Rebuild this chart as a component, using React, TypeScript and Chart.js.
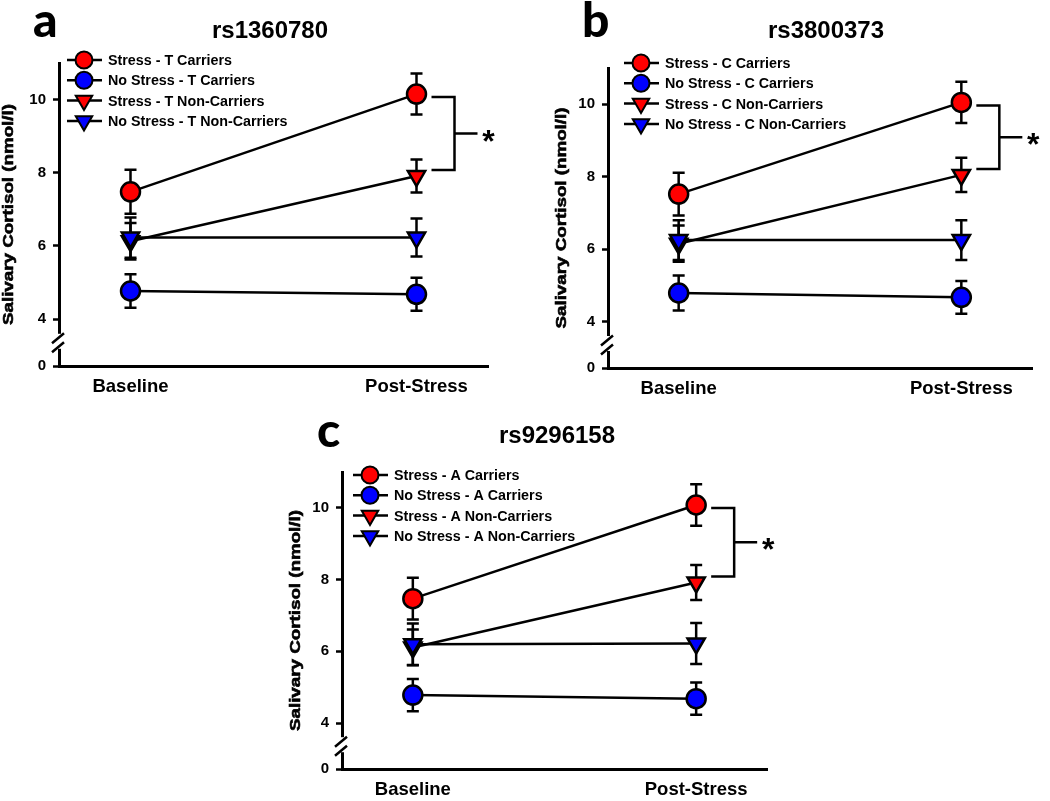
import React, { useEffect, useRef } from 'react';
import { Chart, registerables } from 'chart.js';
import { drawPoint } from 'chart.js/helpers';

Chart.register(...registerables);

// ---------- data ----------
const phases = ['Baseline', 'Post-Stress'];
const yTickValues = [4, 6, 8, 10];
const yLowTickValues = [0];
const yTitle = 'Salivary Cortisol (nmol/l)';
const letters = ['a', 'b', 'c'];
const snpTitles = ['rs1360780', 'rs3800373', 'rs9296158'];

const legendA = ['Stress - T Carriers', 'No Stress - T Carriers', 'Stress - T Non-Carriers', 'No Stress - T Non-Carriers'];
const legendB = ['Stress - C Carriers', 'No Stress - C Carriers', 'Stress - C Non-Carriers', 'No Stress - C Non-Carriers'];
const legendC = ['Stress - A Carriers', 'No Stress - A Carriers', 'Stress - A Non-Carriers', 'No Stress - A Non-Carriers'];

// panel a (rs1360780)
const aStressCarriers = [7.48, 10.15];
const aStressCarriersErr = [0.6, 0.56];
const aNoStressCarriers = [4.77, 4.68];
const aNoStressCarriersErr = [0.46, 0.45];
const aStressNonCarriers = [6.13, 7.91];
const aStressNonCarriersErr = [0.5, 0.45];
const aNoStressNonCarriers = [6.23, 6.23];
const aNoStressNonCarriersErr = [0.55, 0.52];

// panel b (rs3800373)
const bStressCarriers = [7.52, 10.05];
const bStressCarriersErr = [0.59, 0.57];
const bNoStressCarriers = [4.79, 4.67];
const bNoStressCarriersErr = [0.48, 0.45];
const bStressNonCarriers = [6.15, 8.05];
const bStressNonCarriersErr = [0.5, 0.47];
const bNoStressNonCarriers = [6.25, 6.25];
const bNoStressNonCarriersErr = [0.55, 0.55];

// panel c (rs9296158)
const cStressCarriers = [7.47, 10.08];
const cStressCarriersErr = [0.58, 0.58];
const cNoStressCarriers = [4.78, 4.68];
const cNoStressCarriersErr = [0.45, 0.45];
const cStressNonCarriers = [6.11, 7.92];
const cStressNonCarriersErr = [0.5, 0.49];
const cNoStressNonCarriers = [6.2, 6.22];
const cNoStressNonCarriersErr = [0.58, 0.57];

// ---------- styles ----------
const FONT = '"Liberation Sans", Arial, Helvetica, sans-serif';
const markerColors = ['#ff0000', '#0000ff', '#ff0000', '#0000ff'];
const markerStyles = ['circle', 'circle', 'triangle', 'triangle'];
const markerRotation = [0, 0, 180, 180];
const drawOrder = [0, 1, 3, 2];

const boxes = [
  { left: 59, top: 63, right: 488, bottom: 366, letterX: 33, letterY: 37, titleX: 270, titleY: 38, yTitleX: 9, legDx: 25, legDy: -3 },
  { left: 608, top: 68, right: 1032, bottom: 368, letterX: 582, letterY: 37, titleX: 826, titleY: 38, yTitleX: 562, legDx: 33, legDy: -5 },
  { left: 342, top: 472, right: 767, bottom: 769, letterX: 317, letterY: 447, titleX: 557, titleY: 443, yTitleX: 296, legDx: 28, legDy: 3 },
];

const panels = [
  {
    letter: letters[0], title: snpTitles[0], labels: legendA, box: boxes[0],
    means: [aStressCarriers, aNoStressCarriers, aStressNonCarriers, aNoStressNonCarriers],
    errs: [aStressCarriersErr, aNoStressCarriersErr, aStressNonCarriersErr, aNoStressNonCarriersErr],
  },
  {
    letter: letters[1], title: snpTitles[1], labels: legendB, box: boxes[1],
    means: [bStressCarriers, bNoStressCarriers, bStressNonCarriers, bNoStressNonCarriers],
    errs: [bStressCarriersErr, bNoStressCarriersErr, bStressNonCarriersErr, bNoStressNonCarriersErr],
  },
  {
    letter: letters[2], title: snpTitles[2], labels: legendC, box: boxes[2],
    means: [cStressCarriers, cNoStressCarriers, cStressNonCarriers, cNoStressNonCarriers],
    errs: [cStressCarriersErr, cNoStressCarriersErr, cStressNonCarriersErr, cNoStressNonCarriersErr],
  },
];

const W = 1050;
const H = 801;
const X_AXIS_H = 28;
const Y_AXIS_W = 59;

function makeDeco(panel: any) {
  return {
    id: 'deco',
    beforeDatasetsDraw(chart: any) {
      const ctx = chart.ctx;
      const ys = chart.scales.y;
      ctx.save();
      ctx.strokeStyle = '#000';
      ctx.lineWidth = 2.5;
      panel.means.forEach((m: number[], i: number) => {
        const meta = chart.getDatasetMeta(i);
        m.forEach((v: number, j: number) => {
          const e = panel.errs[i][j];
          const x = meta.data[j].x;
          const yt = ys.getPixelForValue(v + e);
          const yb = ys.getPixelForValue(v - e);
          ctx.beginPath();
          ctx.moveTo(x, yt); ctx.lineTo(x, yb);
          ctx.moveTo(x - 6, yt); ctx.lineTo(x + 6, yt);
          ctx.moveTo(x - 6, yb); ctx.lineTo(x + 6, yb);
          ctx.stroke();
        });
      });
      ctx.restore();
    },
    afterDraw(chart: any) {
      const ctx = chart.ctx;
      const b = panel.box;
      const ca = chart.chartArea;
      ctx.save();
      // axis break
      const ax = ca.left;
      const yb = chart.scales.y.bottom;
      ctx.fillStyle = '#fff';
      ctx.fillRect(ax - 3, yb - 11, 6, 15);
      ctx.strokeStyle = '#000';
      ctx.lineWidth = 2.5;
      ctx.beginPath();
      ctx.moveTo(ax - 7, yb - 1.5); ctx.lineTo(ax + 5, yb - 11.5);
      ctx.moveTo(ax - 7, yb + 7.5); ctx.lineTo(ax + 5, yb - 2.5);
      ctx.stroke();

      // significance bracket
      const m0 = chart.getDatasetMeta(0).data[1];
      const m2 = chart.getDatasetMeta(2).data[1];
      const px = m0.x;
      const yTop = m0.y + 3;
      const yBot = m2.y - 6;
      const yMid = (yTop + yBot) / 2;
      ctx.lineWidth = 2.5;
      ctx.beginPath();
      ctx.moveTo(px + 15, yTop); ctx.lineTo(px + 38, yTop); ctx.lineTo(px + 38, yBot); ctx.lineTo(px + 15, yBot);
      ctx.moveTo(px + 38, yMid); ctx.lineTo(px + 61, yMid);
      ctx.stroke();
      ctx.fillStyle = '#000';
      ctx.font = `bold 32px ${FONT}`;
      ctx.textAlign = 'center';
      ctx.textBaseline = 'alphabetic';
      ctx.fillText('*', px + 72, yMid + 18);

      // legend
      const mx = ca.left + b.legDx;
      panel.labels.forEach((lab: string, i: number) => {
        const y = ca.top + b.legDy + i * 20.3;
        ctx.strokeStyle = '#000';
        ctx.lineWidth = 2.5;
        ctx.beginPath();
        ctx.moveTo(mx - 17, y); ctx.lineTo(mx + 18, y);
        ctx.stroke();
        ctx.fillStyle = markerColors[i];
        ctx.strokeStyle = '#000';
        ctx.lineWidth = 2;
        drawPoint(ctx, { pointStyle: markerStyles[i], rotation: markerRotation[i], radius: markerStyles[i] === 'circle' ? 8.5 : 9.5, borderWidth: 2 }, mx, y);
        ctx.fillStyle = '#000';
        ctx.font = `bold 14.3px ${FONT}`;
        ctx.textAlign = 'left';
        ctx.textBaseline = 'middle';
        ctx.fillText(lab, mx + 24, y + 1);
      });

      // title & panel letter
      ctx.fillStyle = '#000';
      ctx.font = `bold 24px ${FONT}`;
      ctx.textAlign = 'center';
      ctx.textBaseline = 'alphabetic';
      ctx.fillText(panel.title, b.titleX, b.titleY);
      ctx.font = '900 48px Lato, "Open Sans", sans-serif';
      ctx.textAlign = 'left';
      ctx.fillText(panel.letter, b.letterX, b.letterY);

      // y-axis title (stretched like the original)
      ctx.font = `bold 14.5px ${FONT}`;
      const tw = ctx.measureText(yTitle).width;
      ctx.translate(b.yTitleX, (ca.top + ca.bottom) / 2);
      ctx.rotate(-Math.PI / 2);
      ctx.scale(221 / tw, 1);
      ctx.textAlign = 'center';
      ctx.textBaseline = 'middle';
      ctx.lineWidth = 0.6;
      ctx.strokeStyle = '#000';
      ctx.fillText(yTitle, 0, 0);
      ctx.strokeText(yTitle, 0, 0);
      ctx.restore();
    },
  };
}

function makeConfig(panel: any): any {
  const b = panel.box;
  const tickFont = { family: FONT, size: 15, weight: 'bold' as const };
  const yCommon = {
    type: 'linear',
    position: 'left',
    stack: 'cortisol',
    afterFit: (s: any) => { s.width = Y_AXIS_W; },
    ticks: { font: tickFont, color: '#000', padding: 7 },
    grid: { drawOnChartArea: false, drawTicks: true, tickLength: 6, tickWidth: 2.5, tickColor: '#000', color: '#000' },
    border: { display: true, color: '#000', width: 3 },
  };
  return {
    type: 'line',
    data: {
      datasets: panel.means.map((m: number[], i: number) => ({
        label: panel.labels[i],
        data: m.map((v, j) => ({ x: j, y: v })),
        borderColor: '#000',
        borderWidth: 2.5,
        pointStyle: markerStyles[i],
        pointRotation: markerRotation[i],
        pointRadius: markerStyles[i] === 'circle' ? 9.5 : 10,
        pointBackgroundColor: markerColors[i],
        pointBorderColor: '#000',
        pointBorderWidth: 2.5,
        tension: 0,
        fill: false,
        order: drawOrder[i],
        yAxisID: 'y',
      })),
    },
    options: {
      responsive: false,
      animation: false,
      events: [],
      layout: {
        padding: { left: b.left - Y_AXIS_W, top: b.top, right: W - b.right, bottom: H - b.bottom - X_AXIS_H },
      },
      plugins: { legend: { display: false }, tooltip: { enabled: false }, title: { display: false } },
      scales: {
        x: {
          type: 'linear',
          min: -0.25,
          max: 1.25,
          afterBuildTicks: (s: any) => { s.ticks = phases.map((_, i) => ({ value: i })); },
          afterFit: (s: any) => { s.height = X_AXIS_H; },
          ticks: {
            callback: (v: number) => phases[v] ?? '',
            font: { family: FONT, size: 18.5, weight: 'bold' },
            color: '#000',
            padding: 10,
            autoSkip: false,
            maxRotation: 0,
          },
          grid: { display: false, drawTicks: false },
          border: { display: true, color: '#000', width: 3 },
        },
        y: {
          ...yCommon,
          stackWeight: 0.93,
          weight: 1,
          min: 3.3,
          max: 11,
          afterBuildTicks: (s: any) => { s.ticks = yTickValues.map((v) => ({ value: v })); },
        },
        y0: {
          ...yCommon,
          stackWeight: 0.07,
          weight: 0,
          min: 0,
          max: 1,
          afterBuildTicks: (s: any) => { s.ticks = yLowTickValues.map((v) => ({ value: v })); },
        },
      },
    },
    plugins: [makeDeco(panel)],
  };
}

function PanelCanvas({ panel }: { panel: any }) {
  const ref = useRef<HTMLCanvasElement | null>(null);
  useEffect(() => {
    if (!ref.current) return;
    const chart = new Chart(ref.current, makeConfig(panel));
    return () => chart.destroy();
  }, [panel]);
  return (
    <canvas
      ref={ref}
      width={W}
      height={H}
      style={{ position: 'absolute', left: 0, top: 0, width: W, height: H }}
    />
  );
}

export default function App() {
  return (
    <div style={{ position: 'absolute', left: 0, top: 0, width: W, height: H, background: '#fff', overflow: 'hidden' }}>
      {panels.map((p) => (
        <PanelCanvas key={p.letter} panel={p} />
      ))}
    </div>
  );
}
